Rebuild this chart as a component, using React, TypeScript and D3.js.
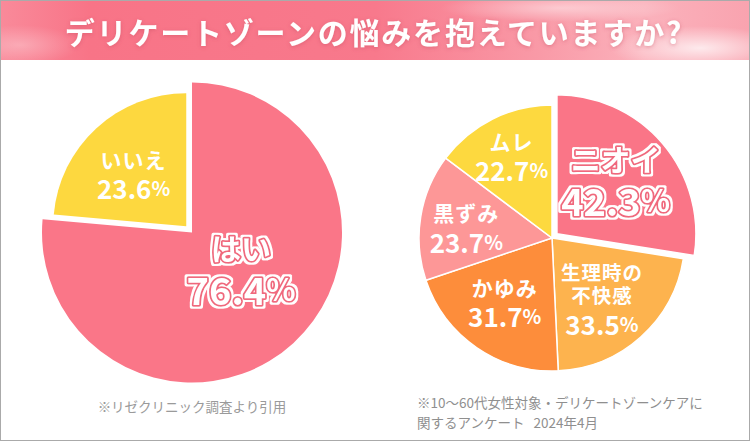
import React from "react";
import * as d3 from "d3";

const title = "デリケートゾーンの悩みを抱えていますか?";

const leftCategories = ["はい", "いいえ"];
const leftValues = [76.4, 23.6];
const leftColors = ["#FA7688", "#FDD83F"];

const rightCategories = [["ニオイ"], ["生理時の", "不快感"], ["かゆみ"], ["黒ずみ"], ["ムレ"]];
const rightValues = [42.3, 33.5, 31.7, 23.7, 22.7];
const rightColors = ["#FA7587", "#FDB34E", "#FD8D3B", "#FD9797", "#FDD93F"];

const leftNote = "※リゼクリニック調査より引用";
const rightNote = ["※10〜60代女性対象・デリケートゾーンケアに", "関するアンケート\u00A0\u00A0\u00A02024年4月"];

const W = 750;
const H = 441;
const FONT = "'Noto Sans CJK JP', 'Noto Sans', sans-serif";

type PieCfg = {
  cx: number;
  cy: number;
  r: number;
  values: number[];
  names: string[][];
  colors: string[];
  explodeIndex: number;
  explodeR: number;
  explodeOffset: number;
  emphIndex: number;
  labelFrac: (i: number) => number;
  nudge: [number, number][];
  stroke: number;
};

function fmt(v: number) {
  return v.toFixed(1);
}

function OutlinedText(props: { x: number; y: number; size: number; children: any; ring: string }) {
  const { x, y, size, children, ring } = props;
  return (
    <text
      x={x}
      y={y}
      textAnchor="middle"
      dominantBaseline="central"
      fontFamily={FONT}
      fontWeight={700}
      fontSize={size}
      strokeLinejoin="round"
      fill="#fff"
      stroke={ring}
      strokeWidth={3.6}
      paintOrder="stroke"
      filter="url(#whiteRing)"
    >
      {children}
    </text>
  );
}

function ValueText(v: number, pctScale: number) {
  return (
    <>
      <tspan>{fmt(v)}</tspan>
      <tspan fontSize={`${pctScale}em`}>%</tspan>
    </>
  );
}

function Pie(cfg: PieCfg) {
  const pie = d3.pie<number>().sort(null).value((d) => d).startAngle(0).endAngle(2 * Math.PI);
  const arcs = pie(cfg.values);
  const arcGen = d3.arc<d3.PieArcDatum<number>>().innerRadius(0);
  return (
    <g transform={`translate(${cfg.cx},${cfg.cy})`}>
      {arcs.map((a, i) => {
        const mid = (a.startAngle + a.endAngle) / 2;
        const ex = i === cfg.explodeIndex;
        const off = ex ? cfg.explodeOffset : 0;
        const dx = Math.sin(mid) * off;
        const dy = -Math.cos(mid) * off;
        const rr = ex ? cfg.explodeR : cfg.r;
        const d = arcGen.outerRadius(rr)(a) as string;
        return (
          <path
            key={i}
            d={d}
            transform={`translate(${dx},${dy})`}
            fill={cfg.colors[i]}
            stroke="#fff"
            strokeWidth={cfg.stroke}
          />
        );
      })}
      {arcs.map((a, i) => {
        const mid = (a.startAngle + a.endAngle) / 2;
        const ex = i === cfg.explodeIndex;
        const off = ex ? cfg.explodeOffset : 0;
        const rr = cfg.labelFrac(i) * cfg.r + off;
        const lx = Math.sin(mid) * rr + cfg.nudge[i][0];
        const ly = -Math.cos(mid) * rr + cfg.nudge[i][1];
        const names = cfg.names[i];
        const emph = i === cfg.emphIndex;
        if (emph) {
          const nameSize = 30;
          const valSize = 38;
          const gap = 41;
          const top = ly - gap / 2;
          return (
            <g key={"l" + i}>
              <OutlinedText x={lx} y={top} size={nameSize} ring="#F0687D">{names[0]}</OutlinedText>
              <OutlinedText x={lx} y={top + gap} size={valSize} ring="#F0687D">
                {ValueText(cfg.values[i], 0.8)}
              </OutlinedText>
            </g>
          );
        }
        const lines = names.length;
        const nameSize = lines > 1 ? 19.5 : 21;
        const valSize = 26;
        const nameGap = 23;
        const valGap = 28.5;
        const totalH = (lines - 1) * nameGap + valGap;
        const top = ly - totalH / 2;
        return (
          <g key={"l" + i} fill="#fff" fontFamily={FONT} fontWeight={700} textAnchor="middle">
            {names.map((n, k) => (
              <text key={k} x={lx} y={top + k * nameGap} fontSize={nameSize} dominantBaseline="central" letterSpacing={1}>
                {n}
              </text>
            ))}
            <text x={lx} y={top + (lines - 1) * nameGap + valGap} fontSize={valSize} dominantBaseline="central">
              {ValueText(cfg.values[i], 0.75)}
            </text>
          </g>
        );
      })}
    </g>
  );
}

export default function App() {
  const left: PieCfg = {
    cx: 192,
    cy: 232.5,
    r: 150,
    values: leftValues,
    names: leftCategories.map((c) => [c]),
    colors: leftColors,
    explodeIndex: 1,
    explodeR: 133,
    explodeOffset: 8.5,
    emphIndex: 0,
    labelFrac: (i) => (i === 0 ? 0.4 : 0.51),
    nudge: [
      [8.5, -9],
      [-1, 3],
    ],
    stroke: 0,
  };
  const right: PieCfg = {
    cx: 552,
    cy: 238,
    r: 133,
    values: rightValues,
    names: rightCategories,
    colors: rightColors,
    explodeIndex: 0,
    explodeR: 139,
    explodeOffset: 6.5,
    emphIndex: 0,
    labelFrac: () => 0.63,
    nudge: [
      [-5, -1],
      [-6, -3],
      [0, -6],
      [-3, 2],
      [-3, -8],
    ],
    stroke: 1.5,
  };
  return (
    <svg
      width={W}
      height={H}
      viewBox={`0 0 ${W} ${H}`}
      style={{ position: "absolute", left: 0, top: 0, display: "block", background: "#fff" }}
    >
      <defs>
        <linearGradient id="titleGrad" x1="0" x2="1" y1="0" y2="0">
          <stop offset="0" stopColor="#F98A9A" />
          <stop offset="0.12" stopColor="#F87487" />
          <stop offset="0.5" stopColor="#F8798C" />
          <stop offset="0.72" stopColor="#F99AA7" />
          <stop offset="0.86" stopColor="#FBB2BC" />
          <stop offset="1" stopColor="#F9A3AF" />
        </linearGradient>
        <radialGradient id="glow1" cx="0.5" cy="0.5" r="0.5">
          <stop offset="0" stopColor="#fff" stopOpacity="0.75" />
          <stop offset="1" stopColor="#fff" stopOpacity="0" />
        </radialGradient>
        <filter id="tshadow" x="-10%" y="-40%" width="120%" height="180%">
          <feGaussianBlur in="SourceAlpha" stdDeviation="2" />
          <feOffset dx="0" dy="1" result="b" />
          <feFlood floodColor="#c0455a" floodOpacity="0.45" />
          <feComposite in2="b" operator="in" />
          <feMerge>
            <feMergeNode />
            <feMergeNode in="SourceGraphic" />
          </feMerge>
        </filter>
        <filter id="whiteRing" x="-20%" y="-40%" width="140%" height="180%">
          <feMorphology in="SourceAlpha" operator="dilate" radius="2" result="dil" />
          <feFlood floodColor="#fff" />
          <feComposite in2="dil" operator="in" result="ring" />
          <feMerge>
            <feMergeNode in="ring" />
            <feMergeNode in="SourceGraphic" />
          </feMerge>
        </filter>
      </defs>
      <rect x={0} y={0} width={W} height={H} fill="#fff" />
      <rect x={0} y={0} width={W} height={60} fill="url(#titleGrad)" />
      <ellipse cx={700} cy={48} rx={90} ry={22} fill="url(#glow1)" />
      <ellipse cx={560} cy={8} rx={120} ry={14} fill="url(#glow1)" opacity={0.6} />
      <ellipse cx={20} cy={45} rx={60} ry={20} fill="url(#glow1)" opacity={0.4} />
      <text
        x={374}
        y={31}
        textAnchor="middle"
        dominantBaseline="central"
        fill="#fff"
        fontFamily={FONT}
        fontWeight={700}
        fontSize={30}
        letterSpacing={1.8}
        filter="url(#tshadow)"
      >
        {title}
      </text>

      {Pie(left)}
      {Pie(right)}

      <text x={192} y={406} textAnchor="middle" dominantBaseline="central" fill="#9a9a9a" fontFamily={FONT} fontSize={13.5}>
        {leftNote}
      </text>
      {rightNote.map((t, i) => (
        <text key={i} x={417} y={402 + i * 20} dominantBaseline="central" fill="#8f8f8f" fontFamily={FONT} fontSize={13.5}>
          {t}
        </text>
      ))}
      <rect x={0.5} y={0.5} width={W - 1} height={H - 1} fill="none" stroke="#aaa" strokeWidth={1} />
    </svg>
  );
}
